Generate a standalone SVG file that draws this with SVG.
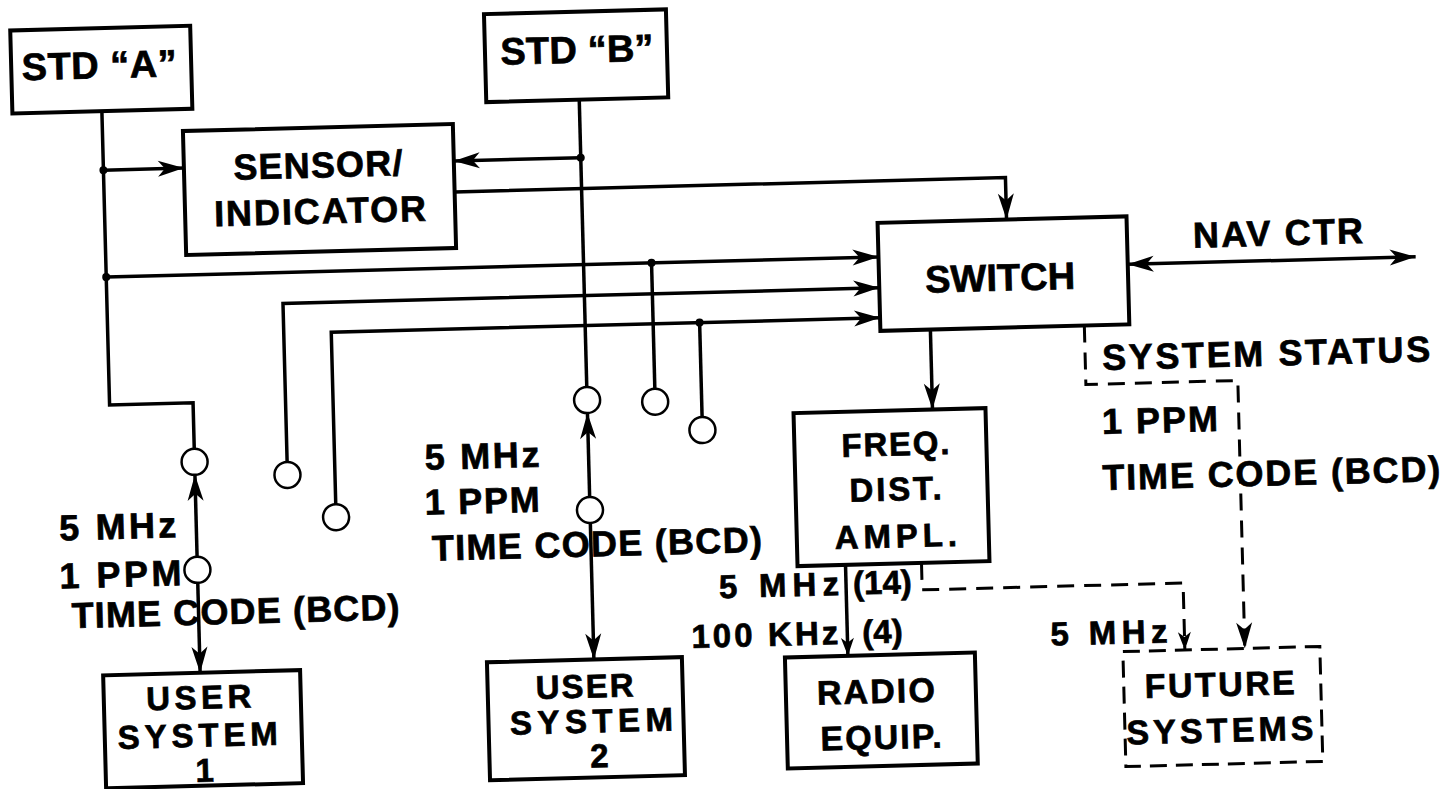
<svg xmlns="http://www.w3.org/2000/svg" width="1446" height="789" viewBox="0 0 1446 789">
<style>
.box{fill:none;stroke:#000;stroke-width:4}
.dbox{fill:none;stroke:#000;stroke-width:3;stroke-dasharray:17 9}
.ln{fill:none;stroke:#000;stroke-width:3.5}
.dl{fill:none;stroke:#000;stroke-width:3;stroke-dasharray:17 10}
.cir{fill:#fff;stroke:#000;stroke-width:2.5}
.dot{fill:#000}
.t{font-family:"Liberation Sans",Arial,Helvetica,sans-serif;font-weight:bold;font-size:36px;fill:#000;stroke:#000;stroke-width:0.7}
.big{font-size:38px}
.bx{font-size:34px}
.sm{font-size:33px}
.m{text-anchor:middle}
.e{text-anchor:end}
</style>
<defs>
<marker id="ah" viewBox="-28 -10 30 20" refX="0" refY="0" markerWidth="30" markerHeight="20" markerUnits="userSpaceOnUse" orient="auto-start-reverse">
<path d="M0,0 L-26,-8 L-19,0 L-26,8 Z" fill="#000"/>
</marker>
<marker id="ahs" viewBox="-20 -8 22 16" refX="0" refY="0" markerWidth="22" markerHeight="16" markerUnits="userSpaceOnUse" orient="auto">
<path d="M0,0 L-18,-6.5 L-13,0 L-18,6.5 Z" fill="#000"/>
</marker>
</defs>
<rect width="1446" height="789" fill="#fff"/>
<g transform="rotate(-1.5 723 394)">
<g id="std-a"><rect class="box" x="20" y="12" width="180" height="83"/><text class="t big m" x="108" y="62" textLength="155" lengthAdjust="spacing">STD “A”</text></g>
<g id="std-b"><rect class="box" x="494" y="8" width="182" height="88"/><text class="t big m" x="586" y="59" textLength="153" lengthAdjust="spacing">STD “B”</text></g>
<g id="sensor"><rect class="box" x="190" y="117" width="270" height="124"/><text class="t m" x="324" y="167" textLength="169" lengthAdjust="spacing">SENSOR/</text><text class="t m" x="325" y="213" textLength="212" lengthAdjust="spacing">INDICATOR</text></g>
<g id="switch"><rect class="box" x="882" y="227" width="249" height="108"/><text class="t big m" x="1003" y="298" textLength="150" lengthAdjust="spacing">SWITCH</text></g>
<g id="freq"><rect class="box" x="793" y="415" width="192" height="153"/><text class="t sm m" x="894" y="460" textLength="108" lengthAdjust="spacing">FREQ.</text><text class="t sm m" x="893" y="505" textLength="92" lengthAdjust="spacing">DIST.</text><text class="t sm m" x="892" y="552" textLength="122" lengthAdjust="spacing">AMPL.</text></g>
<g id="radio"><rect class="box" x="778" y="659" width="190" height="111"/><text class="t bx m" x="868" y="707" textLength="118" lengthAdjust="spacing">RADIO</text><text class="t bx m" x="872" y="753" textLength="121" lengthAdjust="spacing">EQUIP.</text></g>
<g id="user1"><rect class="box" x="96" y="659" width="197" height="113"/><text class="t sm m" x="191" y="695" textLength="105" lengthAdjust="spacing">USER</text><text class="t sm m" x="189" y="733" textLength="160" lengthAdjust="spacing">SYSTEM</text><text class="t sm m" x="195" y="768">1</text></g>
<g id="user2"><rect class="box" x="480" y="656" width="195" height="118"/><text class="t sm m" x="577" y="694" textLength="98" lengthAdjust="spacing">USER</text><text class="t sm m" x="583" y="729" textLength="163" lengthAdjust="spacing">SYSTEM</text><text class="t sm m" x="590" y="764">2</text></g>
<g id="future"><rect class="dbox" x="1116" y="662" width="197" height="115"/><text class="t bx m" x="1212" y="709" textLength="150" lengthAdjust="spacing">FUTURE</text><text class="t bx m" x="1211" y="755" textLength="187" lengthAdjust="spacing">SYSTEMS</text></g>
<g id="labels">
<text class="t m" x="1282" y="260" textLength="170" lengthAdjust="spacing">NAV CTR</text>
<text class="t" x="1103" y="380" textLength="328" lengthAdjust="spacing">SYSTEM STATUS</text>
<text class="t" x="1101" y="444" textLength="116" lengthAdjust="spacing">1 PPM</text>
<text class="t" x="1100" y="500" textLength="338" lengthAdjust="spacing">TIME CODE (BCD)</text>
<text class="t" x="56" y="523" textLength="117" lengthAdjust="spacing">5 MHz</text>
<text class="t" x="55" y="571" textLength="122" lengthAdjust="spacing">1 PPM</text>
<text class="t" x="66" y="611" textLength="328" lengthAdjust="spacing">TIME CODE (BCD)</text>
<text class="t" x="423" y="462" textLength="115" lengthAdjust="spacing">5 MHz</text>
<text class="t" x="422" y="507" textLength="115" lengthAdjust="spacing">1 PPM</text>
<text class="t" x="428" y="553" textLength="330" lengthAdjust="spacing">TIME CODE (BCD)</text>
<text class="t e sm" x="834" y="598" textLength="120" lengthAdjust="spacing">5 MHz</text>
<text class="t sm" x="848" y="598">(14)</text>
<text class="t e sm" x="832" y="647" textLength="147" lengthAdjust="spacing">100 KHz</text>
<text class="t sm" x="856" y="647">(4)</text>
<text class="t sm" x="1044" y="654" textLength="117" lengthAdjust="spacing">5 MHz</text>
</g>
<g id="connectors">
<path class="ln" d="M109.5,95 V389 H193 V435"/>
<path class="ln" d="M109.5,154 H190" marker-end="url(#ah)"/>
<path class="ln" d="M109.5,261 H882" marker-end="url(#ah)"/>
<path class="ln" d="M587,96 V383.5"/>
<path class="ln" d="M587,154 H460" marker-end="url(#ah)"/>
<path class="ln" d="M460,185 H1011 V227" marker-end="url(#ah)"/>
<path class="ln" d="M285.5,450.5 V292 H882" marker-end="url(#ah)"/>
<path class="ln" d="M333,494 V322 H882" marker-end="url(#ah)"/>
<path class="ln" d="M655,261 V387"/>
<path class="ln" d="M701.5,322 V416.5"/>
<path class="ln" d="M193,543 V461" marker-end="url(#ah)"/>
<path class="ln" d="M193,569 V659" marker-end="url(#ah)"/>
<path class="ln" d="M587,493.5 V409.5" marker-end="url(#ah)"/>
<path class="ln" d="M587,519.5 V656" marker-end="url(#ah)"/>
<path class="ln" d="M932,335 V415" marker-end="url(#ah)"/>
<path class="ln" d="M1131,275 H1419" marker-start="url(#ah)" marker-end="url(#ah)"/>
<path class="ln" d="M841,568 V659" marker-end="url(#ahs)"/>
<path class="dl" d="M1086,335 V394 H1238 V662" marker-end="url(#ah)"/>
<path class="dl" d="M917,568 V595 H1178 V662" marker-end="url(#ahs)"/>
<circle class="dot" cx="109.5" cy="154" r="4"/>
<circle class="dot" cx="109.5" cy="261" r="4"/>
<circle class="dot" cx="587" cy="154" r="4"/>
<circle class="dot" cx="655" cy="261" r="4"/>
<circle class="dot" cx="701.5" cy="322" r="4"/>
<circle class="cir" cx="193" cy="448" r="13"/>
<circle class="cir" cx="193" cy="556" r="13"/>
<circle class="cir" cx="285.5" cy="463.5" r="13"/>
<circle class="cir" cx="333" cy="507" r="13"/>
<circle class="cir" cx="587" cy="396.5" r="13"/>
<circle class="cir" cx="655" cy="400" r="13"/>
<circle class="cir" cx="701.5" cy="429.5" r="13"/>
<circle class="cir" cx="587" cy="506.5" r="13"/>
</g>
</g>
</svg>
